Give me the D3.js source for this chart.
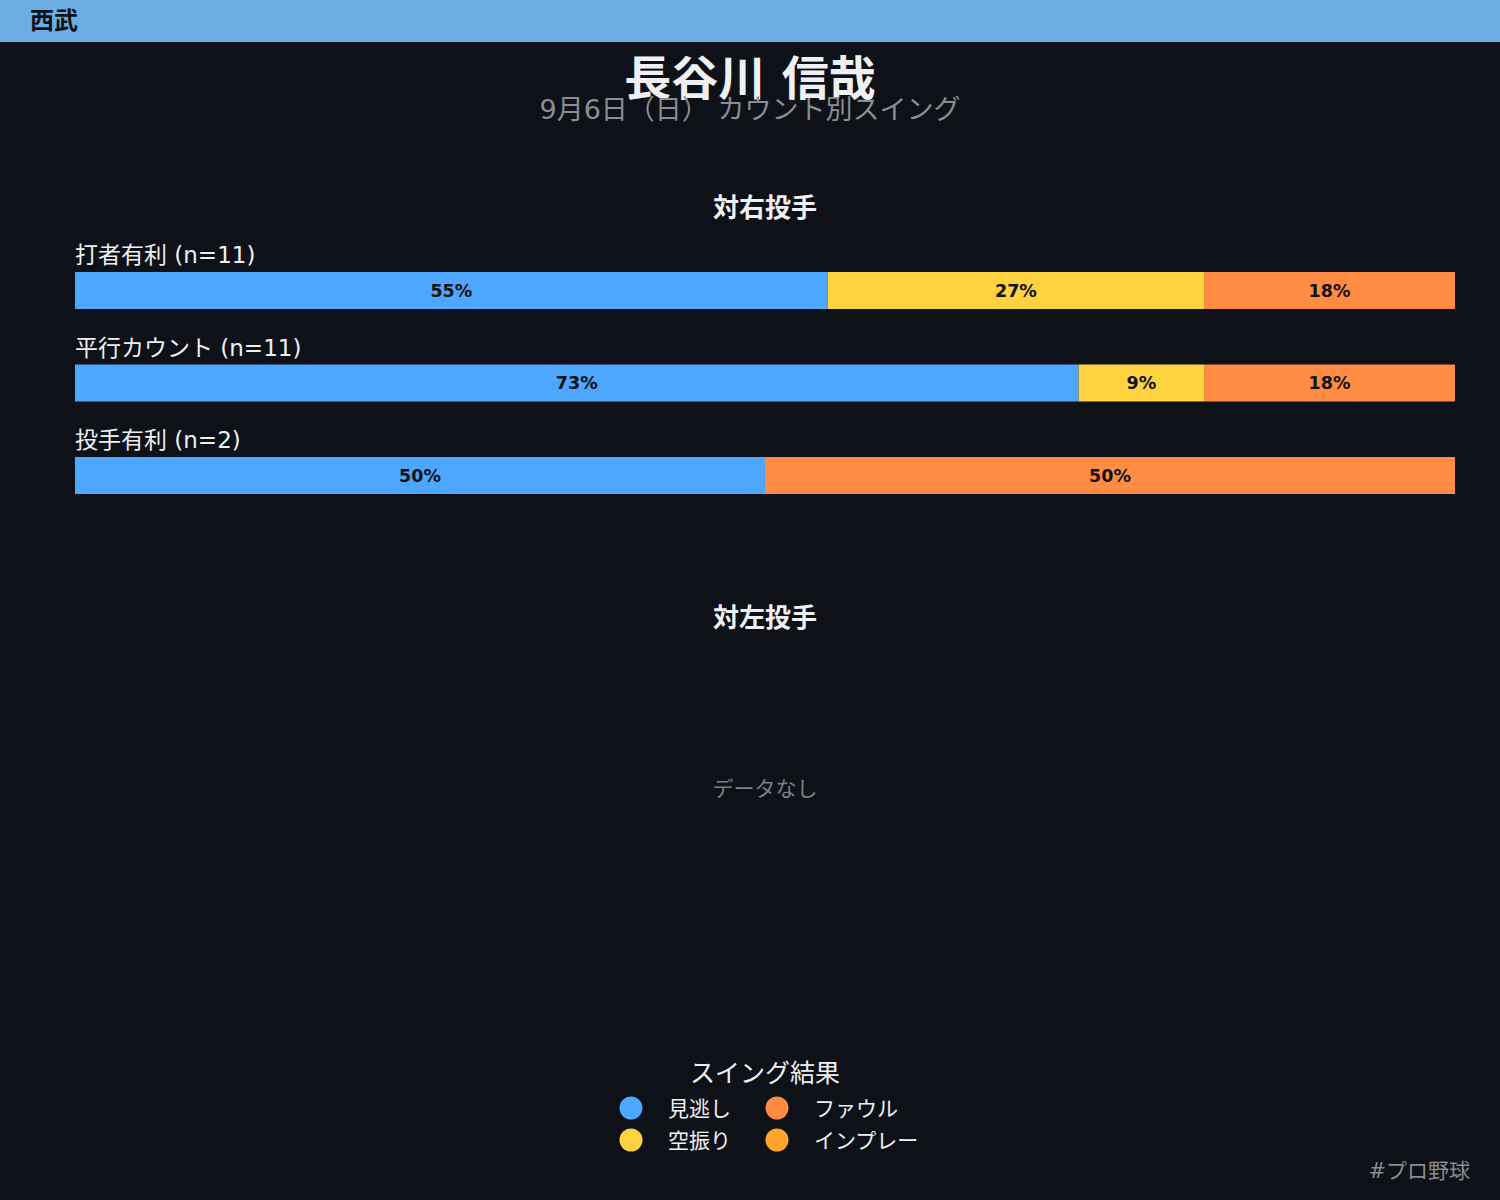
<!DOCTYPE html>
<html>
<head>
<meta charset="utf-8">
<script src="https://cdn.jsdelivr.net/npm/d3@7"></script>
<style>
  body { margin: 0; background: #0e1117; }
  text { font-family: "DejaVu Sans", "Noto Sans CJK JP", sans-serif; }
</style>
</head>
<body>
<div id="chart"></div>
<script>
// data
const team = "西武";
const player = "長谷川 信哉";
const subtitle = "9月6日（日） カウント別スイング";
const results = ["見逃し", "空振り", "ファウル", "インプレー"];
const resultColors = ["#4da6ff", "#ffd23f", "#ff8c42", "#ffa62b"];
const countRows = ["打者有利", "平行カウント", "投手有利"];
// counts per result for each row, vs right-handed pitchers
const vsRight = [
  [6, 3, 2, 0],
  [8, 1, 2, 0],
  [1, 0, 1, 0]
];
const vsLeft = [];

const W = 1500, H = 1200;
const svg = d3.select("#chart").append("svg")
  .attr("width", W)
  .attr("height", H);

svg.append("rect").attr("width", W).attr("height", H).attr("fill", "#0e1117");

// header band
svg.append("rect").attr("width", W).attr("height", 42).attr("fill", "#6aaee4");
svg.append("text").attr("x", 30).attr("y", 29)
  .attr("font-size", 24).attr("font-weight", "bold").attr("fill", "#0e1117")
  .text(team);

svg.append("text").attr("x", 750).attr("y", 95)
  .attr("text-anchor", "middle").attr("font-size", 47).attr("font-weight", "bold")
  .attr("fill", "#eef0f4").text(player);
svg.append("text").attr("x", 750).attr("y", 119)
  .attr("text-anchor", "middle").attr("font-size", 27)
  .attr("fill", "#8a8d94").text(subtitle);

const x = d3.scaleLinear().domain([0, 1]).range([75, 1455]);
const color = d3.scaleOrdinal().domain(results).range(resultColors);

function drawPanel(title, rows, titleY) {
  let g = svg.append("g");
  g.append("text").attr("x", 765).attr("y", titleY)
    .attr("text-anchor", "middle").attr("font-size", 26).attr("font-weight", "bold")
    .attr("fill", "#eef0f4").text(title);

  if (rows.length === 0) {
    g.append("text").attr("x", 765).attr("y", titleY + 169)
      .attr("text-anchor", "middle").attr("font-size", 21)
      .attr("fill", "#7d8088").text("データなし");
    return;
  }

  let y = d3.scaleBand()
    .domain(countRows)
    .range([titleY + 55, titleY + 55 + 92.5 * countRows.length])
    .paddingInner(0);

  rows.forEach((counts, i) => {
    let n = d3.sum(counts);
    let rowY = y(countRows[i]);
    g.append("text").attr("x", 75).attr("y", rowY - 9)
      .attr("font-size", 23).attr("fill", "#eef0f4")
      .text(countRows[i] + " (n=" + n + ")");

    let acc = 0;
    let segs = counts.map((c, j) => {
      let s = { key: results[j], start: acc / n, end: (acc + c) / n, value: c / n };
      acc += c;
      return s;
    }).filter(s => s.value > 0);

    let seg = g.selectAll(".seg" + i).data(segs).enter().append("g");
    seg.append("rect")
      .attr("x", d => x(d.start))
      .attr("y", rowY)
      .attr("width", d => x(d.end) - x(d.start))
      .attr("height", 37)
      .attr("fill", d => color(d.key));
    seg.append("text")
      .attr("x", d => (x(d.start) + x(d.end)) / 2)
      .attr("y", rowY + 24.5)
      .attr("text-anchor", "middle").attr("font-size", 17.5).attr("font-weight", "bold")
      .attr("fill", "#111")
      .text(d => Math.round(d.value * 100) + "%");
  });
}

drawPanel("対右投手", vsRight, 217);
drawPanel("対左投手", vsLeft, 627);

// legend
svg.append("text").attr("x", 765).attr("y", 1082)
  .attr("text-anchor", "middle").attr("font-size", 25)
  .attr("fill", "#eef0f4").text("スイング結果");

const legendOrder = ["見逃し", "ファウル", "空振り", "インプレー"];
let lg = svg.selectAll(".leg").data(legendOrder).enter().append("g")
  .attr("transform", (d, i) => "translate(" + (i % 2 === 0 ? 631 : 777) + "," + (1108 + Math.floor(i / 2) * 32) + ")");
lg.append("circle").attr("r", 11.5).attr("fill", d => color(d));
lg.append("text").attr("x", 37).attr("y", 7.5)
  .attr("font-size", 21).attr("fill", "#eef0f4").text(d => d);

svg.append("text").attr("x", 1470).attr("y", 1178)
  .attr("text-anchor", "end").attr("font-size", 21)
  .attr("fill", "#8a8d94").text("#プロ野球");
</script>
</body>
</html>
